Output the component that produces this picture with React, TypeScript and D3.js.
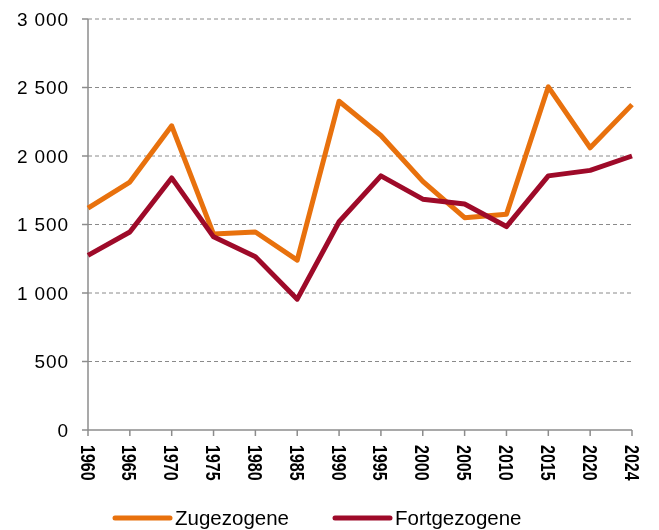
import React, { useEffect, useRef } from 'react';
import * as d3 from 'd3';

const years = ['1960', '1965', '1970', '1975', '1980', '1985', '1990', '1995', '2000', '2005', '2010', '2015', '2020', '2024'];
const zugezogene = [1620, 1810, 2220, 1430, 1445, 1240, 2400, 2150, 1815, 1550, 1575, 2505, 2060, 2375];
const fortgezogene = [1275, 1445, 1840, 1410, 1265, 955, 1520, 1855, 1685, 1650, 1485, 1855, 1895, 2000];
const yTicks = [0, 500, 1000, 1500, 2000, 2500, 3000];

const seriesList = [
    { name: 'Zugezogene', values: zugezogene, color: '#E8710D' },
    { name: 'Fortgezogene', values: fortgezogene, color: '#9E0A29' },
];

function LineChart() {
    const svgRef = useRef<SVGSVGElement>(null);

    useEffect(() => {
        const width = 659;
        const height = 530;
        const margin = { top: 19, right: 27, bottom: 100, left: 88 };
        const innerW = width - margin.left - margin.right;
        const innerH = height - margin.top - margin.bottom;

        const svg = d3.select(svgRef.current);
        svg.selectAll('*').remove();

        const g = svg.append('g').attr('transform', `translate(${margin.left},${margin.top})`);

        const x = d3.scalePoint<string>().domain(years).range([0, innerW]);
        const y = d3.scaleLinear().domain([0, 3000]).range([innerH, 0]);

        const axisColor = '#8c8c8c';
        const fmt = (v: number) => d3.format(',')(v).replace(',', ' ');

        // grid lines
        g.selectAll('line.grid')
            .data(yTicks.filter(d => d > 0))
            .enter()
            .append('line')
            .attr('x1', 0)
            .attr('x2', innerW)
            .attr('y1', d => y(d))
            .attr('y2', d => y(d))
            .attr('stroke', '#8a8a8a')
            .attr('stroke-width', 1)
            .attr('stroke-dasharray', '4,3');

        // y axis
        g.append('line')
            .attr('x1', 0).attr('x2', 0)
            .attr('y1', 0).attr('y2', innerH)
            .attr('stroke', axisColor).attr('stroke-width', 1.5);

        g.selectAll('line.ytick')
            .data(yTicks)
            .enter()
            .append('line')
            .attr('x1', -6).attr('x2', 0)
            .attr('y1', d => y(d)).attr('y2', d => y(d))
            .attr('stroke', axisColor).attr('stroke-width', 1.5);

        g.selectAll('text.ylab')
            .data(yTicks)
            .enter()
            .append('text')
            .attr('x', -19)
            .attr('y', d => y(d))
            .attr('dy', '0.36em')
            .attr('text-anchor', 'end')
            .attr('font-family', 'Liberation Sans, Arial, sans-serif')
            .attr('font-size', 19)
            .attr('letter-spacing', 0.9)
            .attr('fill', '#000')
            .text(d => fmt(d));

        // x axis
        g.append('line')
            .attr('x1', 0).attr('x2', innerW)
            .attr('y1', innerH).attr('y2', innerH)
            .attr('stroke', axisColor).attr('stroke-width', 1.5);

        g.selectAll('line.xtick')
            .data(years)
            .enter()
            .append('line')
            .attr('x1', d => x(d)!).attr('x2', d => x(d)!)
            .attr('y1', innerH).attr('y2', innerH + 6)
            .attr('stroke', axisColor).attr('stroke-width', 1.5);

        g.selectAll('text.xlab')
            .data(years)
            .enter()
            .append('text')
            .attr('transform', d => `translate(${x(d)},${innerH + 15}) rotate(90) scale(1,1.3)`)
            .attr('dy', '0.36em')
            .attr('text-anchor', 'start')
            .attr('font-family', 'Liberation Sans, Arial, sans-serif')
            .attr('font-weight', 'bold')
            .attr('font-size', 16)
            .attr('fill', '#000')
            .text(d => d);

        // lines
        const line = d3.line<number>()
            .x((_, i) => x(years[i])!)
            .y(d => y(d));

        seriesList.forEach(s => {
            g.append('path')
                .datum(s.values)
                .attr('d', line)
                .attr('fill', 'none')
                .attr('stroke', s.color)
                .attr('stroke-width', 5)
                .attr('stroke-linejoin', 'round');
        });

        // legend
        const legendX = [115, 335];
        const legendY = 518;
        seriesList.forEach((s, i) => {
            svg.append('line')
                .attr('x1', legendX[i]).attr('x2', legendX[i] + 55)
                .attr('y1', legendY).attr('y2', legendY)
                .attr('stroke', s.color)
                .attr('stroke-width', 5)
                .attr('stroke-linecap', 'round');
            svg.append('text')
                .attr('x', legendX[i] + 60)
                .attr('y', legendY)
                .attr('dy', '0.36em')
                .attr('font-family', 'Liberation Sans, Arial, sans-serif')
                .attr('font-size', 20.5)
                .attr('fill', '#000')
                .text(s.name);
        });
    }, []);

    return <svg ref={svgRef} width={659} height={530} style={{ display: 'block' }}></svg>;
}

export default function App() {
    return (
        <div style={{ position: 'fixed', left: 0, top: 0, width: 659, height: 530, overflow: 'hidden' }}>
            <LineChart />
        </div>
    );
}
